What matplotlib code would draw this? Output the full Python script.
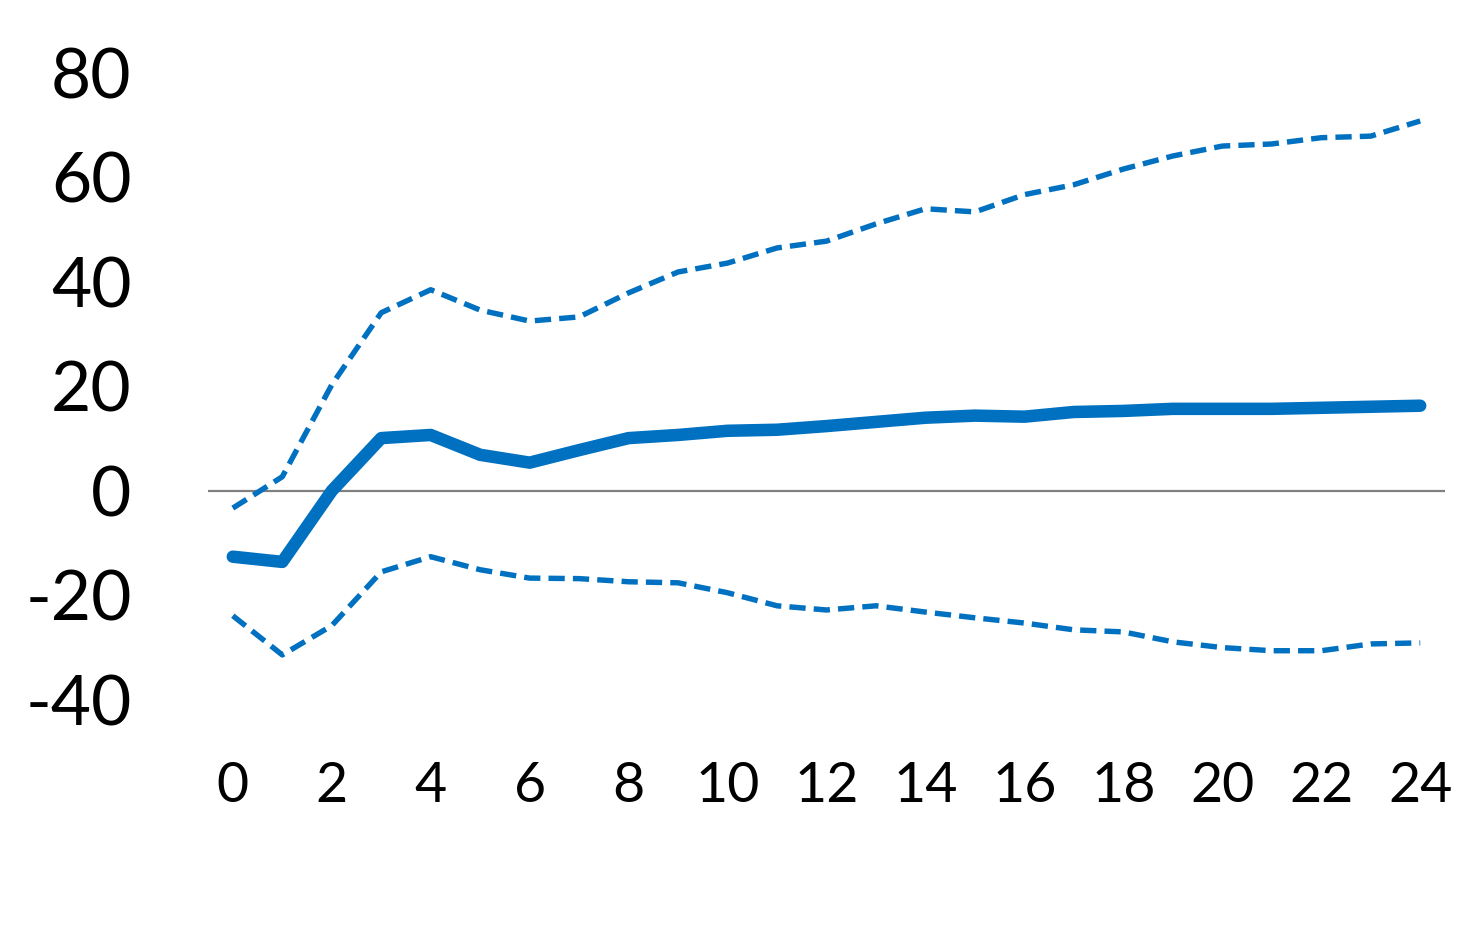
import numpy as np
import matplotlib
matplotlib.use("Agg")
import matplotlib.pyplot as plt

plt.rcParams['font.family'] = ['Lato', 'DejaVu Sans']

# horizon (months)
months = list(range(25))

# point estimate
estimate = [-12.6, -13.6, 0.0, 10.1, 10.7, 6.9, 5.4, 7.8, 10.1, 10.7, 11.5, 11.7,
            12.4, 13.2, 14.0, 14.4, 14.2, 15.1, 15.3, 15.7, 15.7, 15.7, 15.9, 16.1, 16.3]

# confidence bands
upper = [-3.3, 2.7, 20.3, 34.1, 38.5, 34.6, 32.5, 33.3, 37.9, 41.9, 43.6, 46.5,
         47.8, 51.1, 54.0, 53.4, 56.7, 58.6, 61.6, 64.1, 66.0, 66.4, 67.6, 67.9, 70.8]
lower = [-23.9, -31.4, -25.8, -15.5, -12.6, -15.1, -16.7, -16.8, -17.4, -17.6, -19.5, -22.0,
         -22.8, -22.0, -23.2, -24.3, -25.3, -26.6, -27.0, -28.9, -30.0, -30.6, -30.6, -29.3, -29.1]

xticks = list(range(0, 25, 2))
yticks = [-40, -20, 0, 20, 40, 60, 80]

blue = "#0070C0"

fig = plt.figure(figsize=(14.82, 9.47), dpi=100)
ax = fig.add_axes([0.1404, 0.261, 0.8346, 0.662])

ax.axhline(0, color="#808080", lw=1.6, zorder=1)
ax.plot(months, upper, color=blue, lw=3.9, ls=(0, (3, 1.5)), dash_capstyle="butt", zorder=2)
ax.plot(months, lower, color=blue, lw=3.9, ls=(0, (3, 1.5)), dash_capstyle="butt", zorder=2)
ax.plot(months, estimate, color=blue, lw=9, solid_joinstyle="round",
        solid_capstyle="round", zorder=3)

ax.set_xlim(-0.5, 24.5)
ax.set_ylim(-40, 80)
ax.set_xticks(xticks)
ax.set_yticks(yticks)
ax.set_yticklabels([str(v) for v in yticks], fontsize=50)
ax.set_xticklabels([str(v) for v in xticks], fontsize=40)
ax.tick_params(axis="y", length=0, pad=55)
ax.tick_params(axis="x", length=0, pad=44)
for s in ax.spines.values():
    s.set_visible(False)

fig.savefig("out.png", dpi=100)
